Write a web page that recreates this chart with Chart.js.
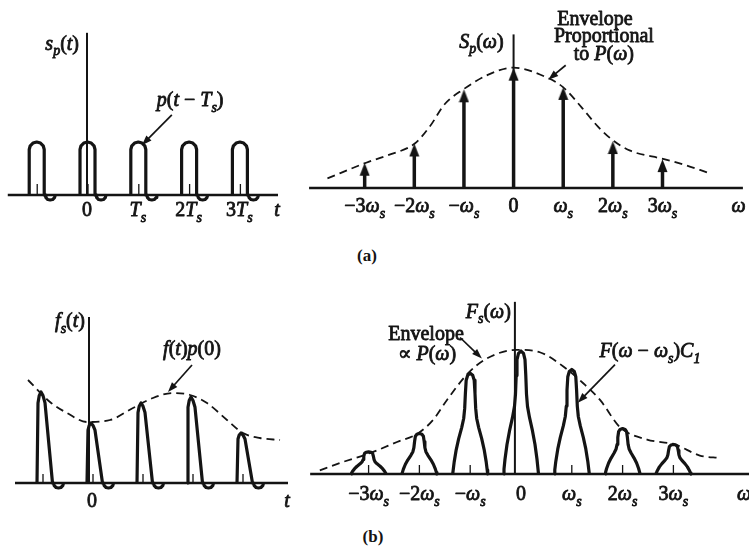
<!DOCTYPE html>
<html>
<head>
<meta charset="utf-8">
<script src="https://cdn.jsdelivr.net/npm/chart.js@4.4.1/dist/chart.umd.min.js"></script>
<style>
  html, body { margin: 0; padding: 0; background: #fff; }
  #page { position: relative; width: 749px; height: 549px; overflow: hidden; background: #fff; }
  canvas { position: absolute; }
  .cap {
    position: absolute; transform: translate(-50%, -50%);
    font: bold 17px "Liberation Serif", serif; color: #141414;
  }
</style>
</head>
<body>
<div id="page">
  <canvas id="spTime" width="300" height="230" style="left:0;top:0"></canvas>
  <canvas id="spFreq" width="449" height="230" style="left:300px;top:0"></canvas>
  <canvas id="fsTime" width="300" height="240" style="left:0;top:270px"></canvas>
  <canvas id="fsFreq" width="449" height="240" style="left:300px;top:270px"></canvas>
  <span class="cap" style="left:367px;top:256px">(a)</span>
  <span class="cap" style="left:373px;top:537px">(b)</span>
</div>
<script>
const SERIF = '"Liberation Serif", "DejaVu Serif", serif';
const INK = '#141414';

// ---- (a) periodic pulse train s_p(t) and its line spectrum S_p(w) ----
const pulseTimes = [-1, 0, 1, 2, 3];
const pulseHeights = [1, 1, 1, 1, 1];
const timeTickValues = [0, 1, 2, 3];
const timeTickLabels = ['0', 'T_s', '2T_s', '3T_s'];

const harmonics = [-3, -2, -1, 0, 1, 2, 3];
const harmonicLabels = ['−3ω_s', '−2ω_s', '−ω_s', '0', 'ω_s', '2ω_s', '3ω_s'];
const impulseHeights = [0.21, 0.37, 0.82, 1.0, 0.84, 0.39, 0.24];
const pulseEnvW = [-3.75, -2.97, -2.55, -1.99, -1.69, -1.38, -1.01, -0.52, 0, 0.66, 0.99, 1.37, 1.70, 2.02, 2.35, 3.03, 3.46, 3.90];
const pulseEnvMag = [0.08, 0.21, 0.27, 0.37, 0.51, 0.70, 0.82, 0.94, 1.0, 0.92, 0.84, 0.67, 0.51, 0.39, 0.31, 0.24, 0.19, 0.13];

// ---- (b) sampled signal f_s(t) and its spectrum F_s(w) ----
const sampleTimes = [-1, 0, 1, 2, 3];
const sampleHeights = [0.91, 0.60, 0.80, 0.86, 0.50];
const signalEnvT = [-1.22, -0.78, -0.44, -0.04, 0.42, 0.88, 1.28, 1.68, 2.02, 2.36, 2.76, 3.08, 3.42, 3.82];
const signalEnvV = [1.03, 0.81, 0.70, 0.61, 0.63, 0.75, 0.85, 0.90, 0.88, 0.80, 0.63, 0.50, 0.45, 0.43];
const lobeHeights = [0.18, 0.33, 0.82, 1.0, 0.85, 0.37, 0.24];
const specEnvW = [-3.96, -3.56, -2.97, -2.44, -2.03, -1.73, -1.46, -1.04, -0.67, -0.08, 0.37, 0.91, 1.22, 1.56, 1.95, 2.48, 3.03, 3.52, 3.92];
const specEnvMag = [0.03, 0.09, 0.17, 0.26, 0.33, 0.44, 0.60, 0.82, 0.94, 1.01, 0.99, 0.85, 0.74, 0.60, 0.38, 0.28, 0.24, 0.15, 0.13];

// axis ranges for each canvas
const PANELS = {
  spTime: { width: 300, height: 230, x: [-1.713, 4.193], y: [-0.660, 3.679] },
  spFreq: { width: 449, height: 230, x: [-4.182, 4.622], y: [-0.299, 1.512] },
  fsTime: { width: 300, height: 240, x: [-1.78, 4.22], y: [-0.27, 2.13] },
  fsFreq: { width: 449, height: 240, x: [-4.350, 4.488], y: [-0.293, 1.659] }
};

// pulse outlines: [px from leading edge, fraction of pulse height]
const ROUND_PULSE = [[0, 0], [0, 0.858], [1.0, 0.929], [3.75, 0.981], [7.5, 1], [11.25, 0.981], [14, 0.929], [15, 0.858], [15, 0]];
const SKEW_PULSE = [[0, 0], [1, 0.88], [2.2, 0.96], [4, 1], [6, 0.96], [8, 0.88], [15.5, 0]];
// small negative lobe after each pulse: [px offset, px depth]
const UNDERSHOOT = [[0, 0], [1, 0], [1.7, -2.6], [3.6, -4.5], [6, -5], [8.4, -4.5], [10.3, -2.6], [11, 0]];
// right half of one spectral lobe: [px half-width, fraction of lobe height]
const LOBE = [[0, 1], [2.5, 0.98], [4, 0.93], [4.8, 0.8], [5.5, 0.65], [6.5, 0.55], [8.5, 0.46],
  [11.5, 0.35], [14, 0.24], [16, 0.12], [17, 0.04], [17.5, 0]];

function unitsPerPx(p) {
  return { ux: (p.x[1] - p.x[0]) / p.width, uy: (p.y[1] - p.y[0]) / p.height };
}

function toPoints(xs, ys) {
  return xs.map((x, i) => ({ x, y: ys[i] }));
}

function pulsePath(t, h, shape, lead, p) {
  const { ux, uy } = unitsPerPx(p);
  const x0 = t + lead * ux;
  const body = shape.map(([dx, f]) => ({ x: x0 + dx * ux, y: f * h }));
  const end = shape[shape.length - 1][0];
  const dip = UNDERSHOOT.slice(1).map(([dx, dy]) => ({ x: x0 + (end + dx) * ux, y: dy * uy }));
  return body.concat(dip);
}

function lobePath(w, h, p) {
  const { ux } = unitsPerPx(p);
  const left = LOBE.slice().reverse().map(([dx, f]) => ({ x: w - dx * ux, y: f * h }));
  const right = LOBE.slice(1).map(([dx, f]) => ({ x: w + dx * ux, y: f * h }));
  return left.concat(right);
}

function tickPath(x, lenPx, p) {
  const { uy } = unitsPerPx(p);
  return [{ x, y: 0 }, { x, y: lenPx * uy }];
}

function line(data, extra) {
  return Object.assign({
    data, showLine: true, borderColor: INK, borderWidth: 3, pointRadius: 0,
    tension: 0, fill: false, borderJoinStyle: 'round', borderCapStyle: 'butt'
  }, extra);
}

function envelope(xs, ys) {
  return line(toPoints(xs, ys), {
    borderWidth: 1.8, borderDash: [8, 5], cubicInterpolationMode: 'monotone'
  });
}

// ---- text helpers: letters italic, "_x" makes a subscript ----
function parseMath(str) {
  const runs = [];
  for (let i = 0; i < str.length; i++) {
    const c = str[i];
    if (c === '_') { runs.push([str[++i], 's']); continue; }
    const kind = /[A-Za-zω]/.test(c) ? 'i' : 'r';
    const last = runs[runs.length - 1];
    if (last && last[1] === kind) last[0] += c; else runs.push([c, kind]);
  }
  return runs;
}

function runFont(kind, size) {
  const italic = kind === 'i' || kind === 's';
  const px = kind === 's' ? Math.round(size * 0.7) : size;
  return `${italic ? 'italic ' : ''}${px}px ${SERIF}`;
}

function drawRuns(ctx, runs, x, y, align, size = 20) {
  let width = 0;
  runs.forEach(([t, k]) => { ctx.font = runFont(k, size); width += ctx.measureText(t).width; });
  let cx = align === 'center' ? x - width / 2 : align === 'right' ? x - width : x;
  ctx.textAlign = 'left';
  ctx.textBaseline = 'alphabetic';
  ctx.lineWidth = 0.8;
  ctx.lineJoin = 'round';
  runs.forEach(([t, k]) => {
    ctx.font = runFont(k, size);
    const ty = y + (k === 's' ? size * 0.28 : 0);
    ctx.fillText(t, cx, ty);
    ctx.strokeText(t, cx, ty);
    cx += ctx.measureText(t).width;
  });
}

function math(ctx, str, x, y, align, size) {
  drawRuns(ctx, parseMath(str), x, y, align, size);
}

function pointer(ctx, x0, y0, x1, y1) {
  const a = Math.atan2(y1 - y0, x1 - x0);
  const len = 10, half = 3.6;
  ctx.lineWidth = 1.7;
  ctx.beginPath();
  ctx.moveTo(x0, y0);
  ctx.lineTo(x1 - Math.cos(a) * len * 0.7, y1 - Math.sin(a) * len * 0.7);
  ctx.stroke();
  ctx.beginPath();
  ctx.moveTo(x1, y1);
  ctx.lineTo(x1 - Math.cos(a) * len - Math.sin(a) * half, y1 - Math.sin(a) * len + Math.cos(a) * half);
  ctx.lineTo(x1 - Math.cos(a) * len + Math.sin(a) * half, y1 - Math.sin(a) * len - Math.cos(a) * half);
  ctx.closePath();
  ctx.fill();
}

function makeChart(id, datasets, notes) {
  const p = PANELS[id];
  return new Chart(document.getElementById(id), {
    type: 'scatter',
    data: { datasets },
    options: {
      responsive: false,
      animation: false,
      devicePixelRatio: 1,
      events: [],
      layout: { padding: 0 },
      plugins: { legend: { display: false }, tooltip: { enabled: false } },
      scales: {
        x: { type: 'linear', min: p.x[0], max: p.x[1], display: false },
        y: { type: 'linear', min: p.y[0], max: p.y[1], display: false }
      }
    },
    plugins: [{
      id: 'notes',
      afterDatasetsDraw(chart) {
        const ctx = chart.ctx;
        const sx = v => chart.scales.x.getPixelForValue(v);
        const sy = v => chart.scales.y.getPixelForValue(v);
        ctx.save();
        ctx.fillStyle = INK;
        ctx.strokeStyle = INK;
        notes(ctx, sx, sy);
        ctx.restore();
      }
    }]
  });
}

// arrowhead marker for the spectral impulses, tip at the image centre
const arrowHead = document.createElement('canvas');
arrowHead.width = 11;
arrowHead.height = 28;
(() => {
  const g = arrowHead.getContext('2d');
  g.fillStyle = INK;
  g.beginPath();
  g.moveTo(5.5, 14);
  g.lineTo(10.5, 27);
  g.lineTo(0.5, 27);
  g.closePath();
  g.fill();
})();

// ---------- (a) left: s_p(t) ----------
{
  const p = PANELS.spTime;
  const sets = [
    line([{ x: -1.56, y: 0 }, { x: 3.76, y: 0 }], { borderWidth: 2.4 }),
    line([{ x: 0, y: 0 }, { x: 0, y: 3.06 }], { borderWidth: 2 })
  ];
  pulseTimes.forEach((t, i) => {
    sets.push(line(pulsePath(t, pulseHeights[i], ROUND_PULSE, -7, p), { borderWidth: 3.2 }));
    sets.push(line(tickPath(t + 1 * unitsPerPx(p).ux, 11, p), { borderWidth: 1.3 }));
  });
  makeChart('spTime', sets, (ctx, sx, sy) => {
    const base = sy(0) + 21;
    timeTickValues.forEach((v, i) => math(ctx, timeTickLabels[i], sx(v), base, 'center'));
    math(ctx, 't', sx(3.74), base, 'center');
    math(ctx, 's_p(t)', sx(0) - 8, sy(2.74), 'right');
    math(ctx, 'p(t − T_s)', sx(2.03), sy(1.68), 'center');
    pointer(ctx, sx(1.67), sy(1.51), sx(1.08), sy(0.94));
  });
}

// ---------- (a) right: S_p(w) ----------
{
  const p = PANELS.spFreq;
  const { uy } = unitsPerPx(p);
  const sets = [
    envelope(pulseEnvW, pulseEnvMag),
    line([{ x: -4.12, y: 0 }, { x: 4.62, y: 0 }], { borderWidth: 2.6 }),
    line([{ x: 0, y: 0 }, { x: 0, y: 1.276 }], { borderWidth: 2 })
  ];
  harmonics.forEach((k, i) => {
    sets.push(line([{ x: k, y: 0 }, { x: k, y: impulseHeights[i] - 8 * uy }], { borderWidth: 3.5 }));
  });
  sets.push({
    data: toPoints(harmonics, impulseHeights), showLine: false,
    pointStyle: arrowHead, pointRadius: 5
  });
  makeChart('spFreq', sets, (ctx, sx, sy) => {
    const base = sy(0) + 24;
    harmonics.forEach((k, i) => math(ctx, harmonicLabels[i], sx(k), base, 'center'));
    math(ctx, 'ω', sx(4.39), base, 'left');
    math(ctx, 'S_p(ω)', sx(0) - 10, sy(1.165), 'right');
    drawRuns(ctx, [['Envelope', 'r']], sx(1.64), sy(1.354), 'center');
    drawRuns(ctx, [['Proportional', 'r']], sx(1.82), sy(1.213), 'center');
    drawRuns(ctx, [['to ', 'r']].concat(parseMath('P(ω)')), sx(1.82), sy(1.063), 'center');
    pointer(ctx, sx(1.05), sy(1.02), sx(0.70), sy(0.90));
  });
}

// ---------- (b) left: f_s(t) ----------
{
  const p = PANELS.fsTime;
  const sets = [
    envelope(signalEnvT, signalEnvV),
    line([{ x: -1.48, y: 0 }, { x: 3.98, y: 0 }], { borderWidth: 2.4 }),
    line([{ x: 0, y: 0 }, { x: 0, y: 1.66 }], { borderWidth: 2 })
  ];
  sampleTimes.forEach((t, i) => {
    sets.push(line(pulsePath(t, sampleHeights[i], SKEW_PULSE, -2, p), { borderWidth: 3.2 }));
    sets.push(line(tickPath(t + 4 * unitsPerPx(p).ux, 9, p), { borderWidth: 1.3 }));
  });
  makeChart('fsTime', sets, (ctx, sx, sy) => {
    const base = sy(0) + 24;
    math(ctx, '0', sx(0.06), base, 'center');
    math(ctx, 't', sx(3.96), base, 'center');
    math(ctx, 'f_s(t)', sx(0) - 4, sy(1.56), 'right');
    math(ctx, 'f(t)p(0)', sx(2.06), sy(1.28), 'center');
    pointer(ctx, sx(2.06), sy(1.18), sx(1.58), sy(0.91));
  });
}

// ---------- (b) right: F_s(w) ----------
{
  const p = PANELS.fsFreq;
  const sets = [
    envelope(specEnvW, specEnvMag),
    line([{ x: -4.15, y: 0 }, { x: 4.49, y: 0 }], { borderWidth: 2.6 }),
    line([{ x: -0.12, y: 0 }, { x: -0.12, y: 1.40 }], { borderWidth: 2 })
  ];
  harmonics.forEach((k, i) => {
    sets.push(line(lobePath(k, lobeHeights[i], p), { borderWidth: 3.2 }));
    if (k !== 0) sets.push(line(tickPath(k, 9, p), { borderWidth: 1.3 }));
  });
  makeChart('fsFreq', sets, (ctx, sx, sy) => {
    const base = sy(0) + 26;
    harmonics.forEach((k, i) => math(ctx, harmonicLabels[i], sx(k), base, 'center'));
    math(ctx, 'ω', sx(4.25), base, 'left');
    math(ctx, 'F_s(ω)', sx(-0.12) - 4, sy(1.27), 'right');
    drawRuns(ctx, [['Envelope', 'r']], sx(-1.87), sy(1.09), 'center');
    math(ctx, '∝ P(ω)', sx(-1.85), sy(0.93), 'center');
    math(ctx, 'F(ω − ω_s)C_1', sx(2.54), sy(0.95), 'center');
    pointer(ctx, sx(-1.20), sy(1.11), sx(-0.77), sy(0.94));
    pointer(ctx, sx(1.85), sy(0.89), sx(1.12), sy(0.58));
  });
}
</script>
</body>
</html>
